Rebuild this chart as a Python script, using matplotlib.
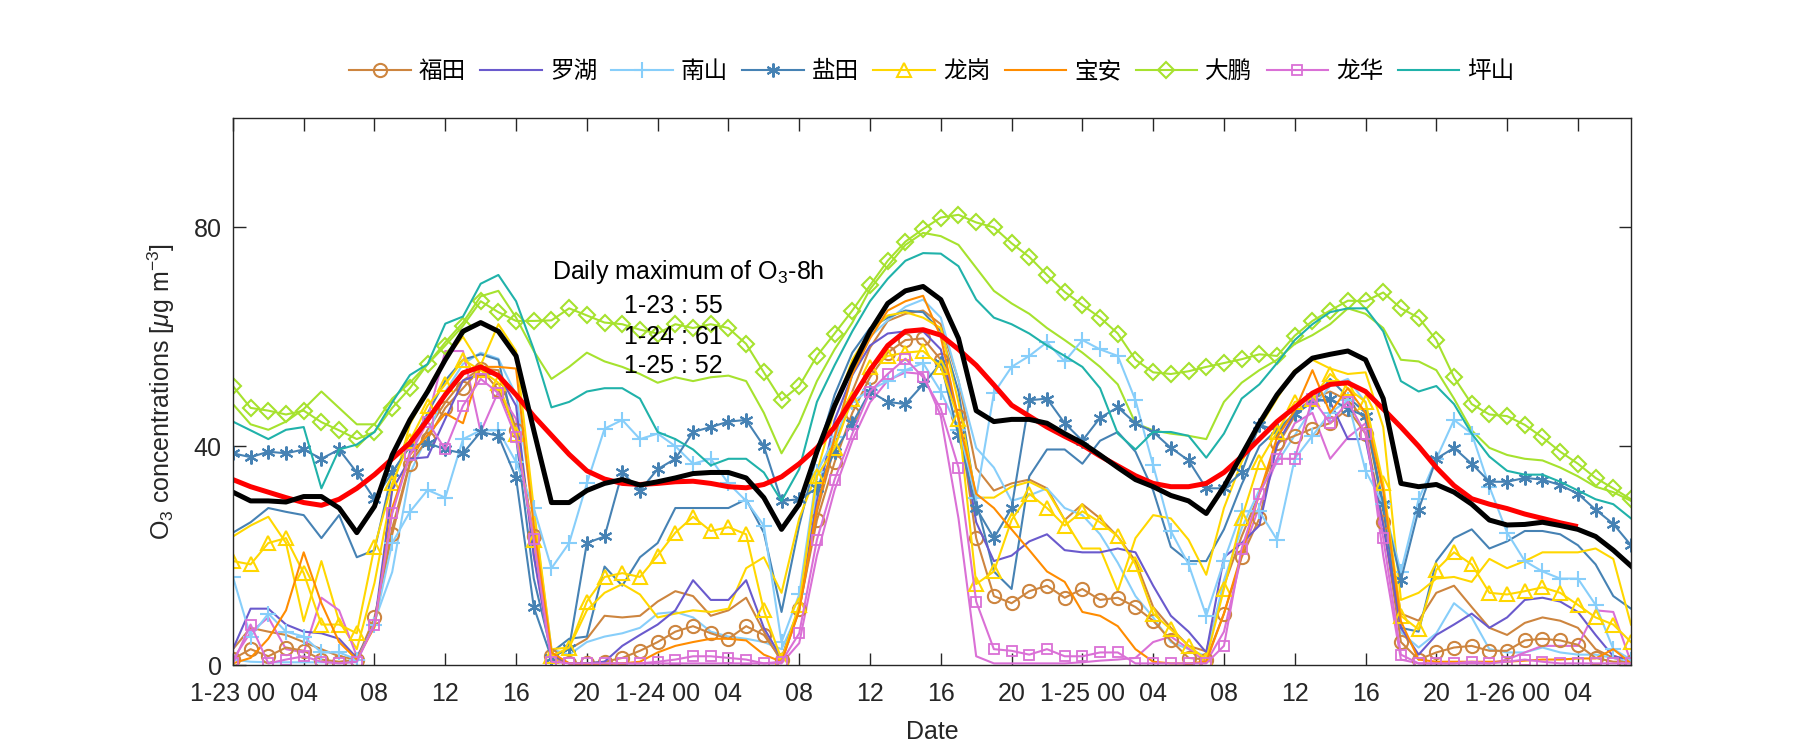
import numpy as np
import matplotlib
matplotlib.use("Agg")
import matplotlib.pyplot as plt

plt.rcParams['font.family'] = ['Liberation Sans', 'Noto Sans CJK SC']
plt.rcParams['mathtext.fontset'] = 'custom'
plt.rcParams['mathtext.rm'] = 'Liberation Sans'
plt.rcParams['mathtext.it'] = 'Liberation Sans:italic'
plt.rcParams['mathtext.default'] = 'regular'

nan = np.nan
hours = np.arange(80)
tick_hours = np.arange(0, 80, 4)
tick_labels = ['1-23 00', '04', '08', '12', '16', '20',
               '1-24 00', '04', '08', '12', '16', '20',
               '1-25 00', '04', '08', '12', '16', '20',
               '1-26 00', '04']

# ---- station series (legend) ----
fu_tian = [1.1, 2.9, 1.6, 3.2, 2.6, 1, 0.6, 1, 8.7, 23.9, 36.8, 41.3, 47, 50.6,
           54.2, 50.3, 42.9, 23.5, 1.6, 0.3, 0.3, 0.6, 1.3, 2.6, 4.2, 6.1, 7.1,
           5.8, 4.8, 7.1, 5.5, 1, 10.3, 26.5, 37.1, 46.1, 52.6, 57.1, 59.4, 59.7, 55.8,
           45.5, 23.2, 12.6, 11.3, 13.5, 14.5, 12.3, 13.9, 11.9, 12.3, 10.6, 8.1,
           4.5, 1.3, 1, 9.4, 19.7, 26.8, 40.6, 41.9, 43.2, 44.2, 46.8, 42.3, 26.1, 4.2,
           1, 2.3, 3.2, 3.5, 2.6, 2.6, 4.5, 4.8, 4.5, 3.7, 1.3, 0.6, 0.6]
luo_hu = [2.9, 10.3, 10.3, 7.4, 6.1, 5.8, 4.8, 1.3, 7.4, 32, 37.7, 38, 45, 52,
          53.2, 53.2, 47.4, 20, 1.9, 0.3, 0.3, 0.6, 3.5, 5.5, 7.4, 10, 15.5,
          11.9, 11.9, 15.5, 6.8, 1.3, 10.6, 30, 44.8, 53, 58.4, 60.6, 61, 61, 57.7,
          45, 26.1, 19, 20, 22.6, 23.9, 21, 20.6, 20.6, 21.3, 20.6, 14.5,
          9, 6.1, 2.3, 19.7, 22.3, 25.5, 40.3, 46.1, 48.7, 48.1, 41.3, 41.3, 25.5, 6.8,
          1.9, 5.5, 7.4, 9.4, 6.8, 8.7, 11.9, 12.3, 11.6, 9.7, 5.5, 1.6, 1]
nan_shan = [16.1, 5.2, 9.4, 6.1, 5.2, 2.3, 2.3, 1, 7.4, 22.3, 28, 32, 30.6, 41.3,
            42.9, 42.9, 37.1, 28.7, 17.7, 22.3, 33.2, 43.2, 44.8, 41.3, 42.3, 40, 36.8,
            37.7, 33.2, 30, 25.5, 4.2, 12.9, 35.2, 41.6, 48.1, 50.3, 51.9, 53.9, 55.2, 50,
            43, 30.6, 49.7, 54.5, 56.5, 59, 55.5, 59.4, 57.7, 56.5, 48.4, 36.5,
            24.5, 18.4, 9, 19, 28.1, 28.1, 22.9, 37.7, 41.9, 46.1, 48.4, 35.5, 29.4, 17,
            30.3, 37.7, 44.8, 42.3, 32.6, 24.2, 19, 17.1, 15.8, 15.8, 11, 2.9, 1]
yan_tian = [38.7, 38, 39, 38.7, 39.4, 37.7, 39.4, 35.2, 30.3, 35.2, 40, 40.6, 39.4, 38.7,
            42.6, 41.9, 34.2, 10.6, 1.3, 3.2, 22.3, 23.5, 35.2, 31.9, 35.8, 37.7, 42.6,
            43.5, 44.5, 44.8, 40, 30, 30.3, 32.3, 39, 44.2, 50, 48.1, 47.7, 51.3, 55.2,
            42, 28.7, 23.2, 28.7, 48.4, 48.7, 44.2, 41, 45.2, 47.1, 44.2, 42.6,
            39.7, 37.4, 32.3, 32.3, 35.2, 43.9, 42.9, 45.8, 48.1, 48.7, 46.8, 45.5, 29.4, 15.5,
            28.4, 37.7, 39.7, 36.8, 33.5, 33.5, 34.2, 33.9, 32.9, 31.3, 28.4, 25.8, 21.9]
long_gang = [19, 18.4, 22.3, 23.2, 16.8, 7.4, 7.4, 5.8, 21.6, 33.2, 41, 47.4, 51.3, 55.8,
             53.9, 51.6, 42.3, 22.9, 1.6, 3.2, 11.6, 16.1, 16.8, 16.1, 20, 24.2, 27.1,
             24.5, 25.2, 23.9, 10, 1, 11, 34.5, 39.7, 48.7, 54.5, 56.5, 57.1, 57.4, 54.5,
             45, 14.8, 17.1, 26.5, 31.3, 28.7, 25.5, 28.1, 26.1, 23.5, 18.4, 9.4,
             6.5, 3.5, 1, 13.9, 26.8, 37.1, 42.6, 48.1, 48.7, 53.2, 50.6, 48.1, 33.2, 9,
             6.5, 17.4, 20.6, 18.4, 13.2, 12.9, 13.5, 14.2, 13.2, 11, 8.7, 7.4, 4.2]
bao_an = [0.3, 1.3, 4.8, 10, 20.6, 11.3, 4.2, 1, 7, 28.7, 38.4, 42, 46, 44.2,
          54.5, 54.5, 54.2, 25.5, 2.3, 0.3, 0.2, 0.2, 0.3, 0.6, 2.3, 3.5, 4.2,
          4.8, 4.8, 4.5, 1.9, 0.6, 10, 28.7, 41.6, 53.2, 59.7, 64.8, 66.5, 67.5, 60,
          45, 31.3, 28.7, 24.8, 21, 17.1, 15.2, 9.7, 9, 7.1, 2.9, 0.6,
          0.3, 0.3, 0.6, 9.4, 20.3, 31.3, 41.6, 46.5, 53.9, 46.1, 50.6, 46.1, 31.9, 8,
          1, 0.6, 0.6, 0.6, 0.6, 0.6, 0.8, 1, 1, 1.2, 1.2, 2.9, 0.3]
da_peng = [51, 47, 46.5, 45.8, 46.5, 44.4, 42.9, 41.3, 42.6, 47, 50.6, 55, 58.4, 62,
           66.5, 64.5, 62.9, 62.9, 63, 65.2, 63.9, 62.6, 62.3, 61.3, 60.6, 62.3, 61.6,
           62.3, 61.6, 58.7, 53.5, 48.4, 51, 56.5, 60.6, 64.8, 69.4, 73.9, 77.4, 79.7, 81.8,
           82.3, 80.9, 80, 77.1, 74.6, 71.3, 68.2, 65.8, 63.5, 60.6, 55.8, 53.5,
           53.2, 53.7, 54.5, 55.2, 55.9, 56.8, 56.5, 60.2, 62.9, 64.8, 66.6, 66.5, 68.1, 65.2,
           63.5, 59.4, 52.6, 47.7, 45.8, 45.5, 43.9, 41.6, 39, 36.8, 34.2, 32.3, 30.3]
long_hua = [0.3, 7.4, 0.3, 1, 1.6, 0.6, 0.3, 0.6, 7.4, 27.7, 38.4, 44.5, 39.4, 47.4,
            52.3, 49.7, 41.6, 23, 0.6, 0.3, 0.3, 0.3, 0.3, 0.3, 0.6, 1, 1.6,
            1.6, 1.3, 1, 0.3, 0.6, 5.8, 22.9, 33.9, 42.3, 50, 53.2, 56, 52.6, 46.8,
            36.1, 11.6, 2.9, 2.6, 1.9, 2.9, 1.6, 1.6, 2.3, 2.3, 0.3, 0.3,
            0.3, 0.3, 0.3, 3.5, 21.3, 31.3, 37.7, 37.7, 48.7, 44.2, 48.1, 42.3, 23.2, 1.9,
            0.3, 0.3, 0.3, 0.6, 0.3, 0.6, 1, 0.6, 0.3, 0.3, 0.3, 0.3, 0.3]
ping_shan = [44.5, 42.9, 41.3, 43, 43.5, 32.3, 39.4, 40.3, 42.6, 48, 53, 55, 62.4, 63.7,
             69.7, 71.3, 66.5, 57.7, 47.1, 48.1, 50, 50.6, 50.6, 48.7, 42.6, 41.3, 39.4,
             36.5, 37.7, 37.7, 35.2, 30, 35.8, 48.1, 54.8, 61, 66.5, 70.6, 73.9, 75.3, 75.2,
             72.9, 66.8, 63.5, 62.3, 60.6, 58.4, 56.5, 54.5, 50.6, 42.3, 39.4, 42.6,
             42.6, 41.9, 37.9, 42.3, 48.7, 51.3, 55.2, 59.4, 62.3, 64.5, 65.2, 65.2, 61, 51.9,
             50, 51, 47.7, 42.3, 38.1, 35.5, 34.8, 34.8, 33.5, 31.9, 30.3, 29.4, 26.8]

# ---- additional sites (same district colours, no markers) ----
fu_tian_b = [2.9, 6.8, 6.1, 5.5, 4.2, 2.9, 1.6, 1, 8, 25, 37, 43, 48, 52,
             54.2, 53.9, 43, 22, 1.6, 2.9, 4.8, 9, 8.7, 9, 11.6, 13.5, 12.6,
             9, 10, 12.3, 6.1, 0.6, 10, 28, 40, 50, 58, 62.9, 64.2, 64.8, 62.3,
             52, 36, 31.9, 33.2, 33.9, 32.3, 26.5, 29.4, 26.8, 23.5, 19, 10.6,
             6.8, 3.5, 2.5, 14.5, 23.5, 31.3, 40, 45.5, 48.7, 50, 48.4, 44.8, 28.7, 9.4,
             8.1, 13.2, 14.5, 10.6, 6.8, 5.5, 7.7, 8.7, 8.1, 6.8, 2.9, 1.3, 0.5]
nan_shan_b = [1, 0.6, 0.5, 0.5, 0.5, 0.5, 0.5, 0.5, 8, 17, 35, 42, 50, 55,
              57.1, 56, 49.4, 28, 2.9, 1.9, 4.2, 5.2, 5.8, 6.8, 9.4, 9.7, 8.7,
              6.1, 5.2, 4.8, 4.2, 2.9, 10, 32, 42, 53, 60, 63, 65.5, 66.8, 63.5,
              52, 39.7, 36.1, 30, 31, 32.3, 28.7, 27.4, 23.9, 18.7, 12.6, 8.7,
              4.2, 2.9, 1.6, 15.5, 25, 32, 37, 42, 47, 51, 52.3, 48, 32, 6,
              3.2, 5.8, 11.3, 8.7, 2.9, 2.3, 2.3, 3.2, 2.3, 1.9, 1.9, 1.3, 0.6]
yan_tian_b = [24.2, 26.1, 28.7, 28, 27.4, 23.2, 27.4, 19.7, 21, 35.2, 40, 46, 52, 55.8,
              56.8, 55.8, 41.6, 15.8, 2.3, 4.8, 5.2, 18, 14.5, 19.7, 22.3, 28.7, 28.7,
              28.7, 28.7, 30.3, 24.2, 9.7, 25.5, 38.4, 49.4, 57.1, 61.6, 63.5, 64.8, 64.5, 61,
              50, 30, 17.1, 13.9, 34.5, 39.4, 39.4, 36.8, 41, 42.6, 39, 31.9,
              21.6, 19, 19, 24.8, 33, 40, 43, 46, 48, 52.3, 49, 46.1, 28.4, 6.8,
              6.1, 19, 23.2, 24.8, 21.3, 22.6, 24.5, 24.5, 23.9, 21.9, 18.4, 12.6, 10.3]
long_gang_b = [23.5, 25.5, 27.1, 22.3, 8, 19, 8, 2.9, 15, 32, 44, 50, 56, 60,
               54.8, 62.3, 57.4, 28.7, 2.9, 3.2, 10, 13.2, 14.8, 12.9, 8.7, 9.4, 10,
               9.7, 10.3, 17.7, 19.7, 13.2, 26.8, 35.2, 46.8, 55.8, 61, 63.9, 64.5, 63.5, 61.6,
               48, 30.6, 30.6, 32.6, 33.5, 31.9, 26.5, 21.3, 21.3, 13.5, 23.2, 27.4,
               26.8, 22.9, 16.5, 28.7, 37.1, 43.5, 48.7, 53.9, 55.8, 54.2, 53.2, 53.5, 43.5, 11.9,
               13.2, 15.8, 16.1, 15.2, 19.4, 17.7, 19, 20.6, 20.6, 20.6, 21.3, 19.4, 7.4]
da_peng_b = [47.7, 44, 43, 44.5, 46.8, 50, 47, 44, 44, 48.7, 51.6, 55, 59, 62.6,
             67.4, 68.4, 63.5, 57.4, 52.3, 54.5, 57.1, 55.5, 54.5, 53.2, 51.6, 52.6, 51.9,
             52.6, 52.9, 51.9, 46.1, 38.7, 44.2, 51.9, 57.7, 62.6, 68.7, 72.9, 76.8, 79, 78.4,
             76.8, 72.6, 68.4, 66.1, 64.2, 61.6, 59.4, 57.1, 54.5, 51.3, 44.2, 42.9,
             42.3, 41.9, 41.3, 48.1, 51.6, 53.9, 55.8, 58.7, 60.3, 62.3, 65.2, 64.2, 61.6, 55.8,
             55.5, 53.9, 48.7, 42.9, 39.7, 38.4, 37.7, 37.4, 36.1, 34.5, 32.6, 31.6, 30]
long_hua_b = [1, 6, 8.7, 2.9, 2.3, 12.3, 10, 1.6, 7, 28, 39, 45, 57.4, 57.4,
              42.6, 50, 45, 20, 1, 0.3, 0.3, 0.3, 0.3, 0.3, 0.3, 0.3, 0.3,
              0.3, 0.3, 0.3, 0.3, 0.3, 4, 20, 32, 41, 48, 52, 53.5, 53.2, 45.5,
              26.8, 1.6, 0.3, 0.3, 0.3, 0.3, 0.3, 0.5, 0.8, 1, 1.3, 4.2,
              5.2, 3, 0.5, 6.1, 20, 29, 37.7, 44.2, 46.1, 37.7, 41.6, 44.2, 20, 1,
              0.3, 0.3, 0.3, 0.3, 0.3, 1, 2.3, 3.5, 3.5, 3.5, 10, 9.7, 0.5]

# ---- city mean (black) and smoothed 8h curve (red) ----
city_mean = [31.6, 30, 30, 29.8, 30.8, 30.8, 28.7, 24.2, 29, 38.4, 44.8, 50, 55.8, 61,
             62.6, 61, 56.5, 42.9, 29.7, 29.7, 31.9, 33.2, 33.9, 32.9, 33.5, 34.2, 35,
             35.2, 35.2, 34.2, 30.6, 24.8, 29.4, 39, 47.4, 54.5, 61, 66.1, 68.4, 69.2, 66.8,
             59.7, 46.5, 44.5, 44.9, 44.9, 44.2, 42.3, 40.6, 38.4, 36.1, 33.9, 32.6,
             31, 30, 27.7, 32.6, 38.4, 44.2, 49.4, 53.5, 56.1, 56.8, 57.4, 55.8, 48.7, 33.2,
             32.6, 33, 31.6, 29.4, 26.5, 25.6, 25.7, 26.1, 25.5, 24.8, 23.5, 21, 18.1]
o3_8h = [33.9, 32.6, 31.6, 30.6, 29.7, 29.2, 30.3, 32.3, 34.8, 37.7, 40.6, 44.8, 49.4, 53.4,
         54.5, 52.9, 49.4, 45.5, 42, 38.5, 35.5, 34, 33.2, 33.0, 33.2, 33.5, 33.6,
         33.2, 32.6, 32.4, 33.0, 34.4, 36.8, 39.7, 43.5, 48.7, 53.9, 58.4, 61, 61.3, 60.3,
         57.7, 54.8, 51.2, 47.5, 45.5, 43.5, 41.8, 40.2, 38.2, 36.4, 34.6, 33.2,
         32.6, 32.6, 33.2, 35.2, 38.1, 41.3, 44.5, 47.1, 49.7, 51.3, 51.6, 50, 46.8, 43.5,
         40, 36.1, 32.8, 30.4, 29.4, 28.6, 27.6, 26.8, 26.0, 25.3, nan, nan, nan]

station_names = ['福田', '罗湖', '南山', '盐田', '龙岗', '宝安', '大鹏', '龙华', '坪山']
annot_lines = ['1-23 : 55', '1-24 : 61', '1-25 : 52']

c_brown, c_purple, c_lblue, c_steel = '#CD853F', '#6A5ACD', '#87CEFA', '#4682B4'
c_gold, c_orange, c_lime, c_orchid, c_teal = '#FFD700', '#FF8C00', '#A6E22E', '#DA70D6', '#20B2AA'

fig = plt.figure(figsize=(18, 7.5), dpi=100)
ax = fig.add_axes([0.1294, 0.1133, 0.7767, 0.7294])

lw = 1.5
# extra site lines
for d, c in [(fu_tian_b, c_brown), (nan_shan_b, c_lblue), (yan_tian_b, c_steel),
             (long_gang_b, c_gold), (da_peng_b, c_lime), (long_hua_b, c_orchid)]:
    ax.plot(hours, d, color=c, lw=lw)

series = [fu_tian, luo_hu, nan_shan, yan_tian, long_gang, bao_an, da_peng, long_hua, ping_shan]
styles = [dict(color=c_brown, marker='o', ms=9.5, mfc='none', mew=1.5),
          dict(color=c_purple),
          dict(color=c_lblue, marker='+', ms=11, mew=1.5),
          dict(color=c_steel, marker=(6, 2, 0), ms=10, mew=1.5),
          dict(color=c_gold, marker='^', ms=10, mfc='none', mew=1.5),
          dict(color=c_orange),
          dict(color=c_lime, marker='D', ms=8.5, mfc='none', mew=1.5),
          dict(color=c_orchid, marker='s', ms=6.5, mfc='none', mew=1.3),
          dict(color=c_teal)]
handles = []
for d, st, name in zip(series, styles, station_names):
    h, = ax.plot(hours, d, lw=lw, label=name, **st)
    handles.append(h)

ax.plot(hours, o3_8h, color='#FF0000', lw=3.6, solid_capstyle='butt')
ax.plot(hours, city_mean, color='black', lw=3.6)

ax.set_xlim(0, 79)
ax.set_ylim(0, 100)
ax.set_xticks(tick_hours)
ax.set_xticklabels(tick_labels)
ax.set_yticks([0, 40, 80])
tc = '#262626'
ax.tick_params(axis='both', which='both', direction='in', top=True, right=True,
               length=9, width=1.0, labelsize=18, colors=tc)
ax.tick_params(axis='x', pad=12)
ax.tick_params(axis='y', pad=8)
for s in ax.spines.values():
    s.set_color(tc)
    s.set_linewidth(1.0)

ax.set_xlabel('Date', fontsize=18, color=tc)
ax.set_ylabel(r'O$_3$ concentrations [$\mathit{\mu}$g m$^{-3}$]', fontsize=18, color=tc)
ax.xaxis.set_label_coords(0.5, -0.10)
ax.yaxis.set_label_coords(-0.040, 0.5)

ax.text(18.05, 71.8, 'Daily maximum of O$_3$-8h', fontsize=18, ha='left', va='center', color='black')
for txt, yv in zip(annot_lines, [65.6, 59.9, 54.6]):
    ax.text(22.1, yv, txt, fontsize=18, ha='left', va='center', color='black')

ax.legend(handles=handles, loc='center', bbox_to_anchor=(0.5, 1.084), ncol=9,
          frameon=False, fontsize=17, handlelength=2.6, handletextpad=0.35,
          columnspacing=0.6, borderaxespad=0)

fig.savefig('out.png', dpi=100)
